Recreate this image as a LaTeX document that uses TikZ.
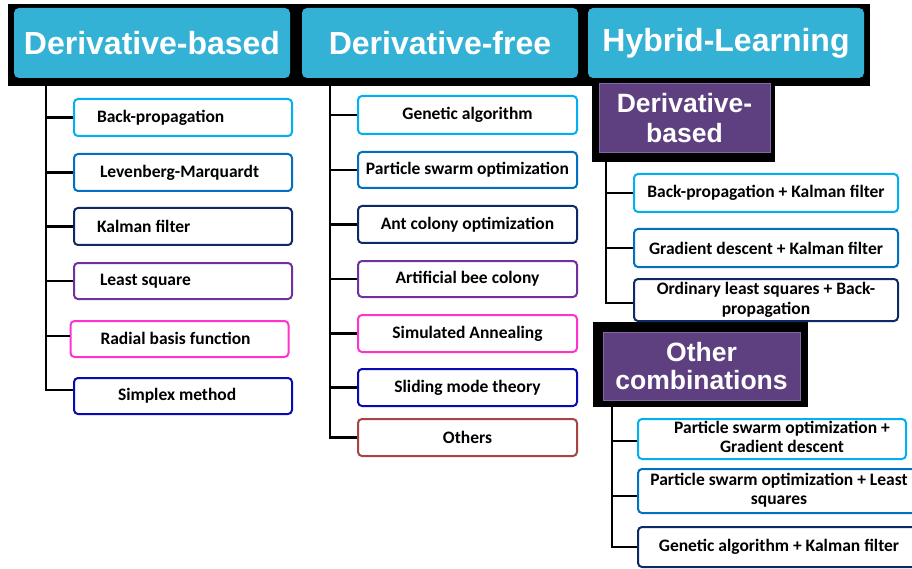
\documentclass[tikz,border=0pt]{standalone}
\usepackage{fontspec}
\setmainfont{Carlito}
\newfontfamily\hdrfont{Liberation Sans}
\usetikzlibrary{calc}
\definecolor{hdrcyan}{HTML}{34B2D6}
\definecolor{cA}{HTML}{00B0F0}
\definecolor{cB}{HTML}{0070C0}
\definecolor{cC}{HTML}{0E2A66}
\definecolor{cD}{HTML}{7030A0}
\definecolor{cE}{HTML}{FF33CC}
\definecolor{cF}{HTML}{0A0AB4}
\definecolor{cG}{HTML}{A94442}
\definecolor{pfill}{HTML}{5E4080}
\definecolor{pedge}{HTML}{8468A6}
\newcommand{\lefttext}[2]{\makebox[214pt][l]{\hspace*{#1}#2}}
\tikzset{
  blk/.style={fill=black, inner sep=0pt},
  hdr/.style={fill=hdrcyan, rounded corners=5pt, text=white, inner sep=0pt,
    font=\hdrfont\bfseries\fontsize{32}{36}\selectfont,
    minimum width=276pt, minimum height=70pt},
  sub/.style={fill=pfill, draw=pedge, line width=1pt, text=white, inner sep=0pt, align=center,
    font=\hdrfont\bfseries\fontsize{26.5}{29}\selectfont},
  box/.style={draw, line width=2pt, rounded corners=4pt, fill=white, inner sep=0pt,
    align=center, font=\bfseries\fontsize{17.5}{20}\selectfont, minimum height=37pt},
  lbox/.style={box, minimum width=218pt},
  mbox/.style={box, minimum width=219pt},
  rbox/.style={box, minimum width=264pt},
  obox/.style={box},
  conn/.style={line width=2.5pt, black}
}
\begin{document}
\begin{tikzpicture}[x=1pt,y=-1pt]
\clip (0,0) rectangle (912,569);
\fill[white] (0,0) rectangle (912,569);

% black band and header boxes
\node[blk, minimum width=862pt, minimum height=82pt] (band) at (439,45) {};
\node[blk, minimum width=183pt, minimum height=87pt] (sub1bg) at (683.5,118.5) {};
\node[hdr] (h1) at (152,43) {Derivative-based};
\node[hdr] (h2) at (440,43) {Derivative-free};
\node[hdr] (h3) at (726,43) {Hybrid-Learning};
\node[sub, minimum width=171pt, minimum height=69pt] (sub1) at (684.5,118.5) {Derivative-\\[1pt]based};

\node[blk, minimum width=215pt, minimum height=85pt] (sub2bg) at (700.5,364.5) {};
\node[sub, minimum width=197pt, minimum height=68pt] (sub2) at (701.5,366) {Other\\[-1pt]combinations};

% left column
\node[lbox, draw=cA] (a1) at (183,117.5) {\lefttext{21pt}{Back-propagation}};
\node[lbox, draw=cB] (a2) at (183,172.5) {\lefttext{24pt}{Levenberg-Marquardt}};
\node[lbox, draw=cC] (a3) at (183,226.5) {\lefttext{21pt}{Kalman filter}};
\node[lbox, draw=cD, minimum height=36pt] (a4) at (183,281) {\raisebox{3pt}{\lefttext{24pt}{Least square}}};
\node[lbox, draw=cE, minimum height=36pt] (a5) at (179.5,339) {\raisebox{2pt}{\lefttext{28pt}{Radial basis function}}};
\node[lbox, draw=cF, minimum height=36pt] (a6) at (183,396) {\lefttext{42pt}{Simplex method}};

% middle column
\node[mbox, draw=cA, minimum height=38pt] (b1) at (467.5,115) {Genetic algorithm};
\node[mbox, draw=cB, minimum height=36pt] (b2) at (467.5,170) {Particle swarm optimization};
\node[mbox, draw=cC] (b3) at (467.5,224.5) {Ant colony optimization};
\node[mbox, draw=cD, minimum height=36pt] (b4) at (467.5,279) {Artificial bee colony};
\node[mbox, draw=cE] (b5) at (467.5,333.5) {Simulated Annealing};
\node[mbox, draw=cF] (b6) at (467.5,387.5) {Sliding mode theory};
\node[mbox, draw=cG] (b7) at (467.5,437.5) {Others};

% right column, derivative-based
\node[rbox, draw=cA, minimum height=38pt] (c1) at (766,193) {Back-propagation + Kalman filter};
\node[rbox, draw=cB, minimum height=38pt] (c2) at (766,248) {Gradient descent + Kalman filter};
\node[rbox, draw=cC, minimum height=42pt] (c3) at (766,300) {Ordinary least squares + Back-\\propagation};

% right column, other combinations
\node[obox, draw=cA, minimum width=268pt, minimum height=40pt] (d1) at (772,439) {\begin{tabular}{@{\hspace{20pt}}c@{}}Particle swarm optimization +\\[-1pt]Gradient descent\end{tabular}};
\node[obox, draw=cB, minimum width=282pt, minimum height=44pt] (d2) at (779,491) {\raisebox{5pt}{\begin{tabular}{@{}c@{}}Particle swarm optimization + Least\\[-1pt]squares\end{tabular}}};
\node[obox, draw=cC, minimum width=282pt, minimum height=40pt] (d3) at (779,547) {Genetic algorithm + Kalman filter};

% trunks
\coordinate (t1) at (46,86);
\coordinate (t2) at (330,86);
\coordinate (t3) at (606,162);
\coordinate (t4) at (612,407);

\draw[conn] (t1) |- ([yshift=6pt]a6.west);
\foreach \n in {a1,a2,a3,a4} \draw[conn] (t1 |- \n.west) -- (\n.west);
\draw[conn] ([yshift=3pt]a5.west -| t1) -- ([yshift=3pt]a5.west);

\draw[conn] (t2) |- (b7.west);
\foreach \n in {b1,b2,b3,b4,b5,b6} \draw[conn] (t2 |- \n.west) -- (\n.west);

\draw[conn] (t3) |- ([yshift=-3pt]c3.west);
\foreach \n in {c1,c2} \draw[conn] (t3 |- \n.west) -- (\n.west);

\draw[conn] (t4) |- (d3.west);
\draw[conn] ([yshift=-2pt]d1.west -| t4) -- ([yshift=-2pt]d1.west);
\draw[conn] ([yshift=-5pt]d2.west -| t4) -- ([yshift=-5pt]d2.west);
\end{tikzpicture}
\end{document}
